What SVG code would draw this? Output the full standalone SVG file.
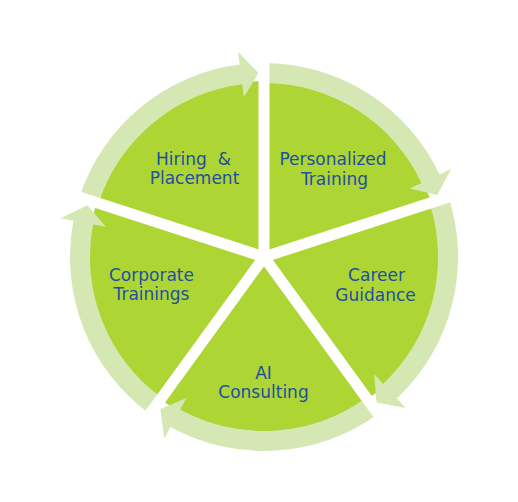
<svg xmlns="http://www.w3.org/2000/svg" width="518" height="502" viewBox="0 0 518 502">
<style>
.pie{fill:#ADD534}
.ring{fill:#D5E8B3}
.gap{stroke:#FFFFFF;stroke-width:11;fill:none}
.lbl{font-family:"DejaVu Sans",sans-serif;font-size:17px;fill:#1F4FA0;text-anchor:middle}
</style>
<rect width="518" height="502" fill="#FFFFFF"/>
<circle class="pie" cx="264" cy="257" r="176"/>
<g id="connectors">
<path class="ring" d="M264,63 A194,194 0 0 1 439.53,174.39 L451.29,168.86 L437.24,194.97 L409.67,188.45 L421.44,182.91 A174,174 0 0 0 264,83 Z"/>
<path class="ring" d="M448.51,197.05 A194,194 0 0 1 396.79,398.43 L405.69,407.9 L376.52,402.58 L374.2,374.37 L383.1,383.85 A174,174 0 0 0 429.49,203.23 Z"/>
<path class="ring" d="M378.03,413.95 A194,194 0 0 1 170.53,427 L164.27,438.39 L160.32,409 L186.43,398.08 L180.17,409.48 A174,174 0 0 0 366.28,397.77 Z"/>
<path class="ring" d="M149.97,413.95 A194,194 0 0 1 73.43,220.64 L60.66,218.21 L87.4,205.35 L105.85,226.83 L93.08,224.39 A174,174 0 0 0 161.72,397.77 Z"/>
<path class="ring" d="M79.49,197.05 A194,194 0 0 1 239.69,64.53 L238.06,51.64 L258.54,73.07 L243.83,97.27 L242.2,84.37 A174,174 0 0 0 98.51,203.23 Z"/>
<line class="gap" x1="264" y1="257" x2="264" y2="32"/>
<line class="gap" x1="264" y1="257" x2="478" y2="187.5"/>
<line class="gap" x1="264" y1="257" x2="396.3" y2="439"/>
<line class="gap" x1="264" y1="257" x2="131.7" y2="439"/>
<line class="gap" x1="264" y1="257" x2="50" y2="187.5"/>
</g>
<g id="node-personalized-training">
<text class="lbl" x="333" y="165">Personalized</text>
<text class="lbl" x="334.5" y="185">Training</text>
</g>
<g id="node-career-guidance">
<text class="lbl" x="376.5" y="281">Career</text>
<text class="lbl" x="375.5" y="301">Guidance</text>
</g>
<g id="node-ai-consulting">
<text class="lbl" x="263.5" y="379">AI</text>
<text class="lbl" x="263.5" y="398">Consulting</text>
</g>
<g id="node-corporate-trainings">
<text class="lbl" x="151.5" y="281">Corporate</text>
<text class="lbl" x="151.5" y="300">Trainings</text>
</g>
<g id="node-hiring-placement">
<text class="lbl" x="193.5" y="165" xml:space="preserve">Hiring  &amp;</text>
<text class="lbl" x="194.5" y="184">Placement</text>
</g>
</svg>
